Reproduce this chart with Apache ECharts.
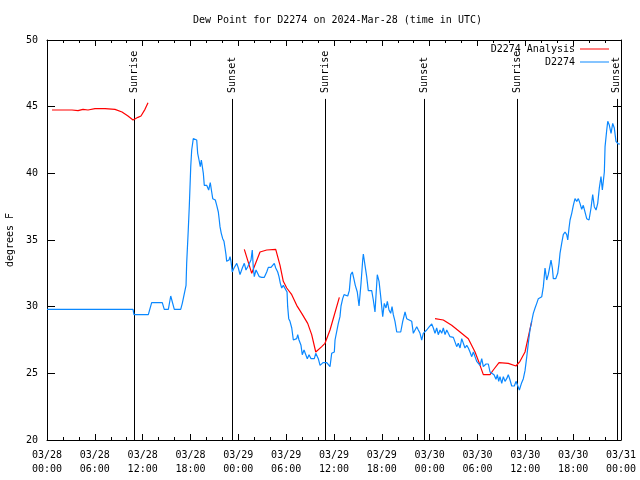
<!DOCTYPE html>
<html><head><meta charset="utf-8">
<script src="https://cdn.jsdelivr.net/npm/echarts@6/dist/echarts.min.js"></script>
<style>html,body{margin:0;padding:0;background:#fff}#c{width:640px;height:480px}</style>
</head><body><div id="c"></div>
<script>
// hours since 2024-03-28 00:00 UTC
const tickLabels = ['03/28\n00:00','03/28\n06:00','03/28\n12:00','03/28\n18:00','03/29\n00:00','03/29\n06:00','03/29\n12:00','03/29\n18:00','03/30\n00:00','03/30\n06:00','03/30\n12:00','03/30\n18:00','03/31\n00:00'];
const yTicks = [20, 25, 30, 35, 40, 45, 50];
const sunHours = [10.95, 23.24, 34.91, 47.33, 59.0, 71.46];
const sunLabels = ['Sunrise','Sunset','Sunrise','Sunset','Sunrise','Sunset'];

const analysisPart1 = [[0.63,44.75],[1.88,44.75],[3.14,44.75],[3.89,44.7],[4.52,44.8],[5.14,44.75],[6.02,44.85],[7.28,44.85],[8.53,44.8],[9.41,44.6],[10.16,44.3],[10.79,44.0],[11.41,44.2],[11.79,44.3],[12.29,44.8],[12.67,45.3]];
const analysisPart2 = [[24.75,34.3],[25.68,32.5],[26.72,34.1],[27.56,34.25],[28.69,34.3],[29.23,33.1],[29.64,31.9],[30.07,31.4],[30.70,30.9],[31.32,30.1],[31.95,29.5],[32.70,28.75],[33.20,27.9],[33.71,26.6],[34.46,27.0],[34.87,27.25],[35.50,28.25],[36.67,30.7]];
const analysisPart3 = [[48.67,29.1],[49.71,29.0],[50.76,28.6],[51.81,28.1],[52.85,27.6],[53.69,26.6],[54.23,25.75],[54.73,24.9],[55.57,24.9],[55.98,25.25],[56.70,25.8],[57.86,25.75],[58.83,25.55],[59.33,25.9],[59.96,26.6],[60.80,28.9]];

const stationObs = [[0,29.8],[10.79,29.8],[10.91,29.4],[12.71,29.4],[13.13,30.3],[14.46,30.3],[14.71,29.8],[15.22,29.8],[15.52,30.8],[15.72,30.8],[15.97,29.8],[16.77,29.8],[16.97,30.25],[17.22,30.25],[17.44,31.6],[17.52,33.25],[17.72,35.75],[17.85,37.55],[18.03,40.5],[18.15,41.75],[18.35,42.6],[18.57,42.75],[18.78,42.5],[18.90,41.5],[19.07,41.0],[19.23,40.5],[19.36,41.0],[19.53,41.1],[19.61,40.0],[19.73,39.1],[20.03,39.1],[20.28,38.75],[20.48,39.3],[20.66,38.6],[20.79,38.1],[21.11,38.0],[21.29,37.6],[21.49,37.1],[21.61,36.5],[21.70,36.0],[21.86,35.5],[22.04,35.1],[22.20,34.9],[22.33,34.4],[22.45,33.9],[22.54,33.4],[22.83,33.5],[22.96,33.75],[23.08,33.4],[23.24,32.6],[23.46,32.9],[23.58,33.0],[23.80,33.25],[24.00,32.9],[24.21,32.4],[24.50,32.9],[24.75,33.25],[24.96,32.75],[25.18,33.0],[25.34,32.9],[25.59,33.5],[25.75,34.25],[25.88,32.9],[26.00,32.25],[26.22,32.75],[26.43,32.9],[26.63,32.25],[26.93,32.2],[27.26,32.2],[27.56,32.6],[27.76,32.95],[28.10,32.95],[28.31,33.0],[28.51,33.25],[28.69,32.9],[28.94,32.6],[29.10,32.25],[29.27,31.75],[29.44,31.4],[29.64,31.6],[29.85,31.5],[30.11,31.1],[30.19,30.0],[30.32,29.1],[30.48,28.9],[30.70,28.4],[30.90,27.5],[31.11,27.4],[31.32,27.6],[31.45,27.9],[31.61,27.5],[31.86,27.1],[32.02,26.4],[32.24,26.75],[32.45,26.6],[32.65,26.1],[32.87,26.4],[33.12,26.1],[33.33,26.25],[33.53,26.1],[33.71,26.5],[33.87,26.6],[34.03,26.1],[34.25,25.6],[34.46,25.6],[34.62,25.8],[35.09,25.8],[35.29,25.75],[35.50,25.5],[35.71,26.5],[36.04,26.6],[36.13,27.5],[36.54,28.75],[36.75,29.25],[36.88,30.05],[37.09,30.6],[37.26,30.9],[37.47,30.75],[37.72,30.8],[37.92,31.2],[38.10,32.4],[38.30,32.6],[38.51,32.05],[38.67,31.6],[38.92,31.1],[39.14,30.05],[39.39,31.75],[39.60,33.5],[39.68,33.95],[39.89,33.1],[40.10,32.25],[40.30,31.2],[40.73,31.2],[40.93,30.5],[41.14,29.6],[41.43,32.4],[41.65,31.9],[41.86,30.75],[42.11,29.25],[42.31,30.25],[42.52,29.9],[42.69,30.4],[42.90,29.75],[43.11,29.5],[43.28,30.0],[43.44,29.4],[43.65,28.9],[43.87,28.1],[44.37,28.1],[44.62,28.9],[44.91,29.6],[45.12,29.1],[45.32,29.0],[45.75,28.9],[45.95,28.0],[46.16,27.9],[46.38,28.5],[46.58,28.25],[46.79,28.0],[47.00,27.5],[47.20,28.0],[47.42,27.9],[47.63,28.25],[47.96,28.5],[48.26,28.7],[48.46,28.4],[48.67,28.0],[48.88,28.4],[49.08,27.9],[49.30,28.25],[49.51,28.0],[49.71,28.4],[49.93,27.9],[50.14,28.25],[50.34,28.0],[50.55,27.75],[50.76,27.9],[50.97,27.7],[51.18,27.6],[51.39,27.0],[51.59,27.25],[51.81,26.9],[52.02,27.6],[52.22,27.5],[52.43,26.9],[52.65,27.1],[52.85,26.9],[53.06,26.6],[53.28,26.25],[53.48,26.6],[53.69,26.25],[53.90,25.9],[54.32,25.6],[54.53,26.1],[54.73,25.5],[55.07,25.7],[55.36,25.7],[55.57,25.1],[55.78,25.25],[56.07,24.9],[56.32,24.55],[56.49,24.9],[56.66,24.4],[56.82,24.75],[57.04,24.25],[57.24,24.75],[57.45,24.4],[57.66,24.6],[57.86,24.9],[58.08,24.5],[58.29,24.05],[58.62,24.05],[58.83,24.4],[59.00,24.25],[59.25,23.75],[59.33,23.6],[59.54,24.3],[59.75,24.6],[59.96,25.2],[60.17,26.2],[60.37,27.25],[60.58,28.25],[61.00,29.5],[61.22,29.9],[61.43,30.25],[61.63,30.6],[61.84,30.75],[62.06,30.75],[62.26,31.5],[62.47,32.9],[62.68,32.0],[62.88,32.4],[63.10,33.1],[63.22,33.5],[63.39,32.9],[63.51,32.1],[63.81,32.1],[64.06,32.5],[64.23,33.25],[64.35,34.0],[64.56,34.75],[64.76,35.4],[64.98,35.6],[65.19,35.4],[65.32,35.0],[65.48,35.9],[65.61,36.5],[65.82,37.0],[66.02,37.6],[66.23,38.1],[66.45,37.9],[66.65,38.1],[66.86,37.75],[67.07,37.3],[67.27,37.6],[67.49,37.5],[67.70,36.6],[67.99,36.5],[68.24,37.4],[68.45,38.4],[68.65,37.5],[68.87,37.25],[69.08,37.75],[69.28,38.9],[69.49,39.75],[69.66,38.75],[69.78,39.4],[69.91,40.1],[70.00,42.0],[70.21,43.25],[70.34,43.9],[70.54,43.6],[70.75,43.0],[70.96,43.75],[71.16,43.4],[71.37,42.4],[71.66,42.2],[71.88,42.2]];

const FONT = '"DejaVu Sans Mono", monospace';
const SUN_LINE_TOP = 45.58, SUN_TEXT_BASE = 46.03;
const txt = {color:'#000', fontFamily: FONT, fontSize: 10};

const analysisData = analysisPart1.concat([[18,'-']], analysisPart2, [[42,'-']], analysisPart3);

const chart = echarts.init(document.getElementById('c'), null, {renderer:'canvas'});
const axisLine = {show:true, onZero:false, lineStyle:{color:'#000', width:1}};
const tick = {show:true, inside:true, length:6, lineStyle:{color:'#000', width:1}};
chart.setOption({
  animation:false,
  backgroundColor:'#fff',
  title:{text:'Dew Point for D2274 on 2024-Mar-28 (time in UTC)', left:188, top:10,
    textStyle:{color:'#000', fontFamily:FONT, fontSize:10, fontWeight:'normal'}},
  legend:[
    {data:['D2274 Analysis'], right:31, top:44, align:'right', icon:'rect', itemWidth:29, itemHeight:1, padding:0, textStyle:txt},
    {data:['D2274'], right:31, top:57, align:'right', icon:'rect', itemWidth:29, itemHeight:1, padding:0, textStyle:txt}
  ],
  grid:{left:47, right:19, top:40, bottom:40, containLabel:false, outerBoundsMode:'none'},
  xAxis:[
    {type:'value', min:0, max:72, interval:6, position:'bottom', axisLine, axisTick:tick,
      minorTick:{show:true, splitNumber:3, length:3, lineStyle:{color:'#000'}},
      splitLine:{show:false},
      axisLabel:Object.assign({formatter:v=>tickLabels[Math.round(v/6)], lineHeight:14, margin:8, hideOverlap:false, showMinLabel:true, showMaxLabel:true}, txt)},
    {type:'value', min:0, max:72, interval:6, position:'top', axisLine, axisTick:tick,
      minorTick:{show:true, splitNumber:3, length:3, lineStyle:{color:'#000'}},
      splitLine:{show:false}, axisLabel:{show:false}}
  ],
  yAxis:[
    {type:'value', min:yTicks[0], max:yTicks[yTicks.length-1], interval:5, position:'left', axisLine,
      axisTick:Object.assign({}, tick, {length:8}), splitLine:{show:false},
      axisLabel:Object.assign({margin:9}, txt),
      name:'degrees F', nameLocation:'middle', nameRotate:90, nameGap:29, nameTextStyle:txt},
    {type:'value', min:yTicks[0], max:yTicks[yTicks.length-1], interval:5, position:'right', axisLine,
      axisTick:Object.assign({}, tick, {length:8}), splitLine:{show:false}, axisLabel:{show:false}}
  ],
  series:[
    {type:'custom', name:'sun', silent:true, z:1, clip:false, xAxisIndex:0, yAxisIndex:0,
      data: sunHours.map((h,i)=>[h, i]),
      renderItem:(params, api)=>{
        const h = api.value(0), i = api.value(1);
        const p0 = api.coord([h, yTicks[0]]), p1 = api.coord([h, SUN_LINE_TOP]), pt = api.coord([h, SUN_TEXT_BASE]);
        const x = Math.round(p0[0]) + 0.5;
        return {type:'group', children:[
          {type:'line', shape:{x1:x, y1:p0[1], x2:x, y2:p1[1]}, style:{stroke:'#000', lineWidth:1}},
          {type:'text', x:pt[0], y:pt[1], rotation:Math.PI/2,
            style:{text:sunLabels[i], x:0, y:0, align:'left', verticalAlign:'middle', textAlign:'left', textVerticalAlign:'middle',
              font:'10px "DejaVu Sans Mono"', fill:'#000'}}
        ]};
      }},
    {type:'line', name:'D2274 Analysis', data:analysisData, symbol:'none', connectNulls:false, z:3,
      lineStyle:{color:'#ff0000', width:1.2}, itemStyle:{color:'#ff0000'}},
    {type:'line', name:'D2274', data:stationObs, symbol:'none', z:4,
      lineStyle:{color:'#0a88ff', width:1.2}, itemStyle:{color:'#0a88ff'}}
  ]
});
</script>
</body></html>
